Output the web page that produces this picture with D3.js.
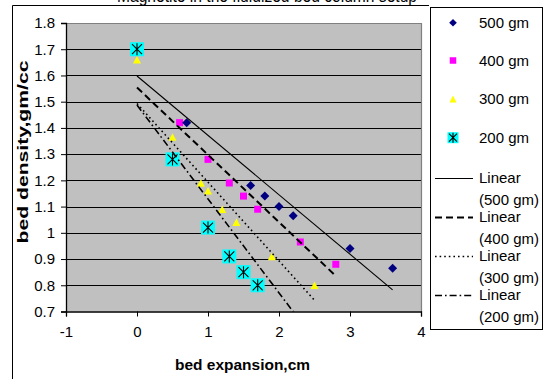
<!DOCTYPE html>
<html>
<head>
<meta charset="utf-8">
<script src="https://cdn.jsdelivr.net/npm/d3@7/dist/d3.min.js"></script>
<style>
  html, body { margin: 0; padding: 0; background: #fff; }
  svg { display: block; font-family: "Liberation Sans", Arial, sans-serif; }
</style>
</head>
<body>
<svg id="chart" width="544" height="379"></svg>
<script>
// Bed expansion (cm) and bed density (gm/cc) for each magnetite load
const xExp500 = [0, 0.7, 1.6, 1.8, 2.0, 2.2, 3.0, 3.6];
const dens500 = [1.70, 1.42, 1.18, 1.14, 1.10, 1.065, 0.94, 0.865];
const xExp400 = [0, 0.6, 1.0, 1.3, 1.5, 1.7, 2.3, 2.8];
const dens400 = [1.70, 1.42, 1.28, 1.19, 1.14, 1.09, 0.965, 0.88];
const xExp300 = [0, 0.5, 0.9, 1.0, 1.2, 1.4, 1.9, 2.5];
const dens300 = [1.66, 1.365, 1.19, 1.16, 1.09, 1.04, 0.91, 0.80];
const xExp200 = [0, 0.5, 1.0, 1.3, 1.5, 1.7];
const dens200 = [1.70, 1.28, 1.02, 0.91, 0.85, 0.80];

const seriesNames = ["500 gm", "400 gm", "300 gm", "200 gm"];

// Linear trendlines: density = intercept + slope * expansion
const trendNames = ["Linear (500 gm)", "Linear (400 gm)", "Linear (300 gm)", "Linear (200 gm)"];
const trendSlope = [-0.2265, -0.2566, -0.300, -0.358];
const trendIntercept = [1.598, 1.554, 1.493, 1.487];
const trendFrom = [0, 0, 0, 0];
const trendTo = [3.6, 2.8, 2.5, 2.5];

// Axis ticks
const xTicks = [-1, 0, 1, 2, 3, 4];
const xTickLabels = ["-1", "0", "1", "2", "3", "4"];
const yTicks = [0.7, 0.8, 0.9, 1.0, 1.1, 1.2, 1.3, 1.4, 1.5, 1.6, 1.7, 1.8];
const yTickLabels = ["0.7", "0.8", "0.9", "1", "1.1", "1.2", "1.3", "1.4", "1.5", "1.6", "1.7", "1.8"];

const chartTitle = "Magnetite in the fluidized bed column setup";
const xTitle = "bed expansion,cm";
const yTitle = "bed density,gm/cc";

const svg = d3.select("#chart");
const plot = { left: 66, right: 421, top: 23, bottom: 311.5 };

const x = d3.scaleLinear().domain([-1, 4]).range([plot.left, plot.right]);
const y = d3.scaleLinear().domain([0.7, 1.8]).range([plot.bottom, plot.top]);

// Title, mostly above the visible frame
svg.append("text")
  .attr("x", 267).attr("y", 1.5)
  .attr("text-anchor", "middle")
  .attr("font-size", 18)
  .attr("textLength", 300).attr("lengthAdjust", "spacingAndGlyphs")
  .text(chartTitle);

// Chart frame
svg.append("line").attr("x1", 12.5).attr("x2", 12.5).attr("y1", 5.5).attr("y2", 379)
  .attr("stroke", "#000");
svg.append("line").attr("x1", 12.5).attr("x2", 429).attr("y1", 5.5).attr("y2", 5.5)
  .attr("stroke", "#000");

// Plot area
svg.append("rect")
  .attr("x", plot.left).attr("y", plot.top)
  .attr("width", plot.right - plot.left).attr("height", plot.bottom - plot.top)
  .attr("fill", "#C0C0C0");

// Horizontal gridlines
svg.append("g").selectAll("line")
  .data(yTicks.filter(v => v > 0.7 && v < 1.8))
  .join("line")
  .attr("x1", plot.left).attr("x2", plot.right)
  .attr("y1", d => Math.round(y(d)) + 0.5).attr("y2", d => Math.round(y(d)) + 0.5)
  .attr("stroke", "#000").attr("stroke-width", 1);

// Plot area top/right border
svg.append("path")
  .attr("d", `M${plot.left},${Math.round(plot.top) + 0.5}H${Math.round(plot.right) + 0.5}V${plot.bottom}`)
  .attr("fill", "none").attr("stroke", "#808080").attr("stroke-width", 1.2);

// Axes
const xAxis = d3.axisBottom(x).tickValues(xTicks).tickSize(5).tickPadding(14)
  .tickFormat((d, i) => xTickLabels[i]);
const yAxis = d3.axisLeft(y).tickValues(yTicks).tickSize(5).tickPadding(6)
  .tickFormat((d, i) => yTickLabels[i]);

const gx = svg.append("g").attr("transform", `translate(0,${plot.bottom})`).call(xAxis);
const gy = svg.append("g").attr("transform", `translate(${plot.left},0)`).call(yAxis);
[gx, gy].forEach(g => {
  g.select(".domain").attr("stroke", "#000").attr("stroke-width", 1.3);
  g.selectAll(".tick line").attr("stroke", "#000");
  g.selectAll(".tick text").attr("font-size", 15).attr("fill", "#000")
    .attr("font-family", "Liberation Sans, Arial, sans-serif");
});
gx.selectAll(".tick text").attr("dy", "0.45em");

// Axis titles
svg.append("text")
  .attr("x", 242.5).attr("y", 370)
  .attr("text-anchor", "middle").attr("font-weight", "bold").attr("font-size", 15)
  .attr("textLength", 135).attr("lengthAdjust", "spacingAndGlyphs")
  .text(xTitle);
svg.append("text")
  .attr("transform", "translate(28,152) rotate(-90)")
  .attr("text-anchor", "middle").attr("font-weight", "bold").attr("font-size", 15)
  .attr("textLength", 183).attr("lengthAdjust", "spacingAndGlyphs")
  .text(yTitle);

// Marker shapes
function diamondPath(r) { return `M0,${-r}L${r},0L0,${r}L${-r},0Z`; }
function squarePath(s) { return `M${-s / 2},${-s / 2}h${s}v${s}h${-s}Z`; }
function trianglePath(w, h) { return `M0,${-h / 2}L${w / 2},${h / 2}L${-w / 2},${h / 2}Z`; }

function drawMarker(g, kind, big) {
  if (kind === 0) {
    g.append("path").attr("d", diamondPath(big ? 4.5 : 3.8)).attr("fill", "#000080");
  } else if (kind === 1) {
    g.append("path").attr("d", squarePath(big ? 7 : 6.5)).attr("fill", "#FF00FF");
  } else if (kind === 2) {
    g.append("path").attr("d", trianglePath(big ? 8 : 7, big ? 7.5 : 7)).attr("fill", "#FFFF00");
  } else {
    const s = big ? 14 : 11;
    const a = big ? 5 : 4;
    g.append("path").attr("d", squarePath(s)).attr("fill", "#00FFFF");
    g.append("path")
      .attr("d", `M${-a},${-a}L${a},${a}M${a},${-a}L${-a},${a}M0,${-a - 1}L0,${a + 1}`)
      .attr("stroke", "#000").attr("stroke-width", 1.1).attr("fill", "none");
  }
}

const seriesX = [xExp500, xExp400, xExp300, xExp200];
const seriesY = [dens500, dens400, dens300, dens200];

// Points (200 gm drawn last, on top)
const drawOrder = [1, 0, 2, 3];
drawOrder.forEach(k => {
  const g = svg.append("g").attr("class", "series-" + k);
  seriesX[k].forEach((xv, i) => {
    const m = g.append("g").attr("transform", `translate(${x(xv)},${y(seriesY[k][i])})`);
    drawMarker(m, k, true);
  });
});

// Trendlines, clipped to the plot area
svg.append("clipPath").attr("id", "plotClip")
  .append("rect")
  .attr("x", plot.left).attr("y", plot.top)
  .attr("width", plot.right - plot.left).attr("height", plot.bottom - plot.top);

const trendStyle = [
  { dash: null, width: 1.1 },
  { dash: "7,4", width: 2 },
  { dash: "1.6,3", width: 1.6 },
  { dash: "7,3,1.6,3", width: 1.6 }
];
const line = d3.line().x(d => x(d[0])).y(d => y(d[1]));
const gTrend = svg.append("g").attr("clip-path", "url(#plotClip)");
trendNames.forEach((name, k) => {
  const pts = [trendFrom[k], trendTo[k]].map(xv => [xv, trendIntercept[k] + trendSlope[k] * xv]);
  gTrend.append("path")
    .attr("d", line(pts))
    .attr("fill", "none").attr("stroke", "#000")
    .attr("stroke-width", trendStyle[k].width)
    .attr("stroke-dasharray", trendStyle[k].dash);
});

// Legend
const lg = svg.append("g");
lg.append("rect").attr("x", 430.5).attr("y", 7.5).attr("width", 112).attr("height", 322)
  .attr("fill", "#fff").attr("stroke", "#000").attr("stroke-width", 1);

const markerRowY = [22.7, 60.5, 99, 137.7];
seriesNames.forEach((name, k) => {
  const m = lg.append("g").attr("transform", `translate(453,${markerRowY[k]})`);
  drawMarker(m, k, false);
  lg.append("text").attr("x", 479).attr("y", markerRowY[k]).attr("dy", "0.35em")
    .attr("font-size", 15).text(name);
});

const trendRowY = [178, 217, 256, 295];
trendNames.forEach((name, k) => {
  lg.append("line").attr("x1", 435).attr("x2", 473)
    .attr("y1", trendRowY[k] + 0.5).attr("y2", trendRowY[k] + 0.5)
    .attr("stroke", "#000").attr("stroke-width", trendStyle[k].width)
    .attr("stroke-dasharray", trendStyle[k].dash);
  const parts = [name.slice(0, name.indexOf(" ")), name.slice(name.indexOf(" ") + 1)];
  parts.forEach((p, j) => {
    lg.append("text").attr("x", 479).attr("y", trendRowY[k] + j * 21.5).attr("dy", "0.35em")
      .attr("font-size", 15).text(p);
  });
});
</script>
</body>
</html>
